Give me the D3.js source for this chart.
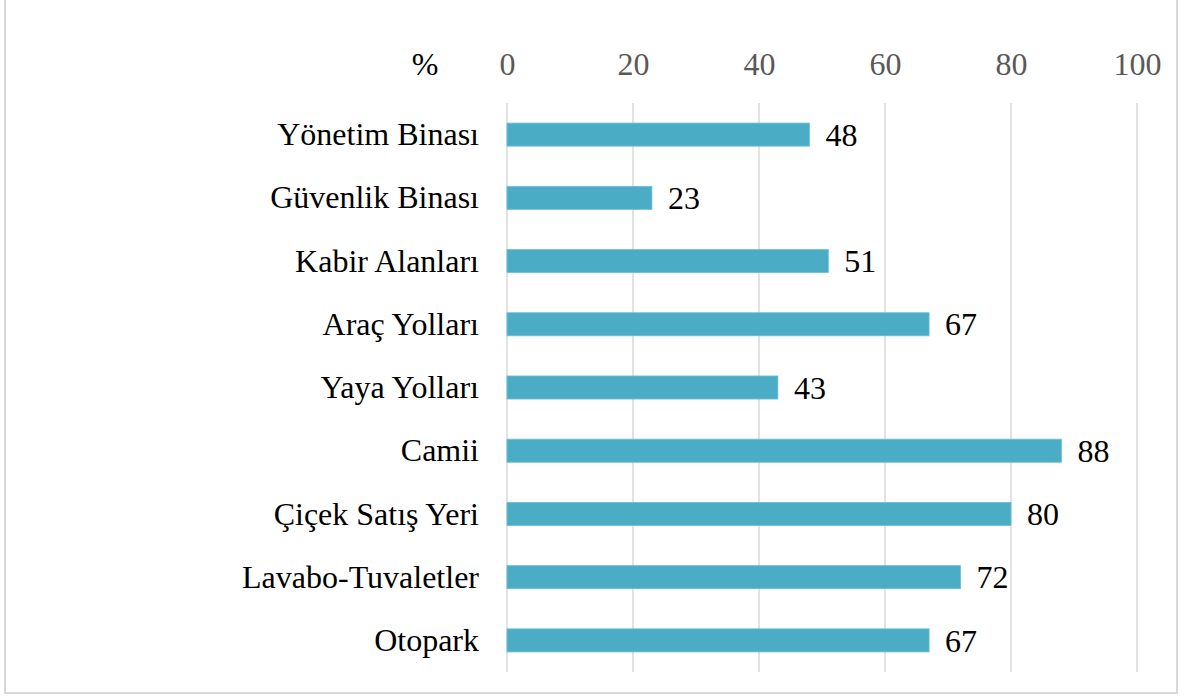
<!DOCTYPE html>
<html>
<head>
<meta charset="utf-8">
<script src="https://cdn.jsdelivr.net/npm/d3@7"></script>
<style>
  body { margin: 0; background: #fff; }
  svg text { font-family: "Liberation Serif", "Times New Roman", serif; }
</style>
</head>
<body>
<div id="chart"></div>
<script>
// Data
const categories = ["Yönetim Binası", "Güvenlik Binası", "Kabir Alanları", "Araç Yolları",
    "Yaya Yolları", "Camii", "Çiçek Satış Yeri", "Lavabo-Tuvaletler", "Otopark"];
const values = [48, 23, 51, 67, 43, 88, 80, 72, 67];
const tickValues = [0, 20, 40, 60, 80, 100];

const W = 1195, H = 697;
const plot = { left: 507, right: 1137, top: 103, bottom: 672 };

const svg = d3.select("#chart")
    .append("svg")
    .attr("width", W)
    .attr("height", H);

// outer frame (top edge sits above the picture)
svg.append("rect")
    .attr("x", 5)
    .attr("y", -10)
    .attr("width", 1172)
    .attr("height", 703)
    .attr("fill", "none")
    .attr("stroke", "#d9d9d9")
    .attr("stroke-width", 2);

const x = d3.scaleLinear()
    .domain([0, 100])
    .range([plot.left, plot.right]);

const y = d3.scaleBand()
    .domain(categories)
    .range([plot.top, plot.bottom])
    .paddingInner(0.635)
    .paddingOuter(0.3175);

// vertical gridlines
svg.append("g")
    .selectAll("line")
    .data(tickValues)
    .enter().append("line")
    .attr("x1", d => x(d))
    .attr("x2", d => x(d))
    .attr("y1", plot.top)
    .attr("y2", plot.bottom)
    .attr("stroke", "#d9d9d9")
    .attr("stroke-width", 1.5);

// top axis labels
const xAxis = svg.append("g")
    .attr("transform", `translate(0,${plot.top})`)
    .call(d3.axisTop(x).tickValues(tickValues).tickSize(0).tickPadding(28));
xAxis.select(".domain").remove();
xAxis.selectAll("text")
    .style("font-family", "Liberation Serif")
    .style("font-size", "32px")
    .attr("fill", "#595959");

svg.append("text")
    .attr("x", 425)
    .attr("y", 75)
    .attr("text-anchor", "middle")
    .style("font-size", "32px")
    .attr("fill", "#000")
    .text("%");

// bars
svg.append("g")
    .selectAll("rect")
    .data(values)
    .enter().append("rect")
    .attr("x", x(0))
    .attr("y", (d, i) => y(categories[i]))
    .attr("width", d => x(d) - x(0))
    .attr("height", y.bandwidth())
    .attr("fill", "#4bacc6")
    .attr("stroke", "#6cc0d6")
    .attr("stroke-width", 0.8);

// category labels
svg.append("g")
    .selectAll("text")
    .data(categories)
    .enter().append("text")
    .attr("x", plot.left - 28)
    .attr("y", d => y(d) + y.bandwidth() / 2)
    .attr("dy", "0.33em")
    .attr("text-anchor", "end")
    .style("font-size", "32px")
    .attr("fill", "#000")
    .text(d => d);

// value labels
svg.append("g")
    .selectAll("text")
    .data(values)
    .enter().append("text")
    .attr("x", d => x(d) + 16)
    .attr("y", (d, i) => y(categories[i]) + y.bandwidth() / 2)
    .attr("dy", "0.35em")
    .style("font-size", "32px")
    .attr("fill", "#000")
    .text(d => d);
</script>
</body>
</html>
